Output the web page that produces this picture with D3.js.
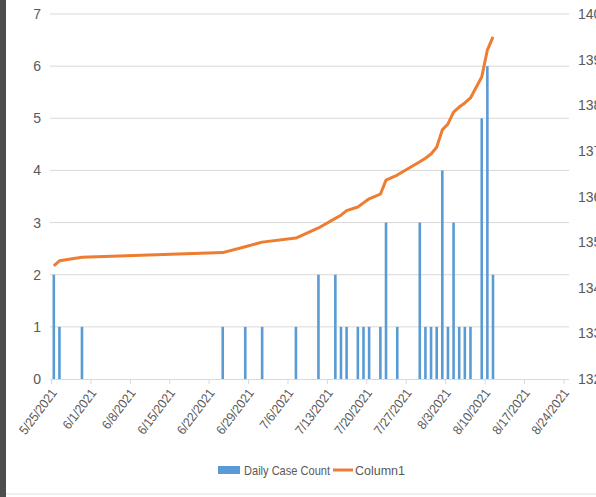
<!DOCTYPE html>
<html>
<head>
<meta charset="utf-8">
<script src="https://cdn.jsdelivr.net/npm/d3@7"></script>
<style>
  body { margin: 0; background: #fff; }
  text { font-family: "Liberation Sans", Arial, sans-serif; fill: #595959; }
</style>
</head>
<body>
<div id="chart"></div>
<script>
// data
var caseDates = ["2021-05-25","2021-05-26","2021-05-30","2021-06-24","2021-06-28","2021-07-01",
                 "2021-07-07","2021-07-11","2021-07-14","2021-07-15","2021-07-16","2021-07-18",
                 "2021-07-19","2021-07-20","2021-07-22","2021-07-23","2021-07-25","2021-07-29",
                 "2021-07-30","2021-07-31","2021-08-01","2021-08-02","2021-08-03","2021-08-04",
                 "2021-08-05","2021-08-06","2021-08-07","2021-08-09","2021-08-10","2021-08-11"];
var dailyCases = [2,1,1,1,1,1, 1,2,2,1,1,1, 1,1,1,3,1,3, 1,1,1,4,1,3, 1,1,1,5,6,2];
var column1 = [134.48,134.59,134.67,134.77,134.90,135.00,
               135.09,135.31,135.52,135.59,135.69,135.77,
               135.86,135.95,136.05,136.36,136.47,136.76,
               136.84,136.93,137.08,137.46,137.59,137.85,
               137.96,138.05,138.16,138.62,139.21,139.50];
var leftTicks = [0,1,2,3,4,5,6,7];
var rightTicks = [132,133,134,135,136,137,138,139,140];

var w = 596, h = 497;
var parse = d3.timeParse("%Y-%m-%d");
var dates = caseDates.map(parse);

var svg = d3.select("#chart").append("svg")
    .attr("width", w).attr("height", h);

// dark strip on the left edge and faint bottom border
svg.append("rect").attr("x", 0).attr("y", 0).attr("width", 6).attr("height", h).attr("fill", "#4d4d4d");
svg.append("line").attr("x1", 6).attr("x2", w).attr("y1", 494).attr("y2", 494)
    .attr("stroke", "#e0e0e0");

var x = d3.scaleTime()
    .domain([parse("2021-05-25"), parse("2021-08-25")])
    .range([51, 569]);
var yL = d3.scaleLinear().domain([0, 7]).range([379, 14]);
var yR = d3.scaleLinear().domain([132, 140]).range([379, 14]);

function mid(d) { return x(d3.timeHour.offset(d, 12)); }

// gridlines
svg.append("g").selectAll("line")
    .data(leftTicks.slice(1))
    .enter().append("line")
    .attr("x1", 50).attr("x2", 569)
    .attr("y1", function(d) { return yL(d); })
    .attr("y2", function(d) { return yL(d); })
    .attr("stroke", "#d9d9d9").attr("stroke-width", 1);

// left axis labels
svg.append("g").selectAll("text")
    .data(leftTicks)
    .enter().append("text")
    .attr("x", 41).attr("y", function(d) { return yL(d) + 5; })
    .attr("text-anchor", "end")
    .attr("font-size", 14)
    .text(function(d) { return d; });

// right axis labels (cut by the edge, as in the original)
svg.append("g").selectAll("text")
    .data(rightTicks)
    .enter().append("text")
    .attr("x", 578).attr("y", function(d) { return yR(d) + 5; })
    .attr("font-size", 14)
    .text(function(d) { return d; });

// bars
svg.append("g").selectAll("rect")
    .data(dates)
    .enter().append("rect")
    .attr("x", function(d) { return mid(d) - 1.3; })
    .attr("width", 2.6)
    .attr("y", function(d, i) { return yL(dailyCases[i]); })
    .attr("height", function(d, i) { return yL(0) - yL(dailyCases[i]); })
    .attr("fill", "#5b9bd5");

// x axis
var xAxis = d3.axisBottom(x)
    .tickValues(d3.timeDay.range(parse("2021-05-25"), parse("2021-08-25"), 7))
    .tickSize(5)
    .tickFormat(d3.timeFormat("%-m/%-d/%Y"));
var gx = svg.append("g").attr("transform", "translate(0,379)").call(xAxis);
gx.select(".domain").attr("stroke", "#d9d9d9").attr("d", "M50,0.5H569");
gx.selectAll(".tick line").attr("stroke", "#d9d9d9");
gx.selectAll(".tick text")
    .attr("font-size", 13)
    .attr("fill", "#595959")
    .attr("font-family", "Liberation Sans, Arial, sans-serif")
    .attr("text-anchor", "end")
    .attr("dy", null).attr("y", 0)
    .attr("transform", "translate(6,14) rotate(-53) scale(0.92,1)");

// line
var line = d3.line()
    .x(function(d) { return mid(d); })
    .y(function(d, i) { return yR(column1[i]); });
svg.append("path")
    .datum(dates)
    .attr("d", line)
    .attr("fill", "none")
    .attr("stroke", "#ed7d31")
    .attr("stroke-width", 3)
    .attr("stroke-linejoin", "round");

// legend
var lg = svg.append("g");
lg.append("rect").attr("x", 218).attr("y", 466).attr("width", 22).attr("height", 8).attr("fill", "#5b9bd5");
lg.append("text").attr("x", 244).attr("y", 475).attr("font-size", 13)
    .attr("textLength", 86).attr("lengthAdjust", "spacingAndGlyphs").text("Daily Case Count");
lg.append("line").attr("x1", 333).attr("x2", 353).attr("y1", 470).attr("y2", 470)
    .attr("stroke", "#ed7d31").attr("stroke-width", 3);
lg.append("text").attr("x", 355).attr("y", 475).attr("font-size", 13)
    .attr("textLength", 50).attr("lengthAdjust", "spacingAndGlyphs").text("Column1");
</script>
</body>
</html>
